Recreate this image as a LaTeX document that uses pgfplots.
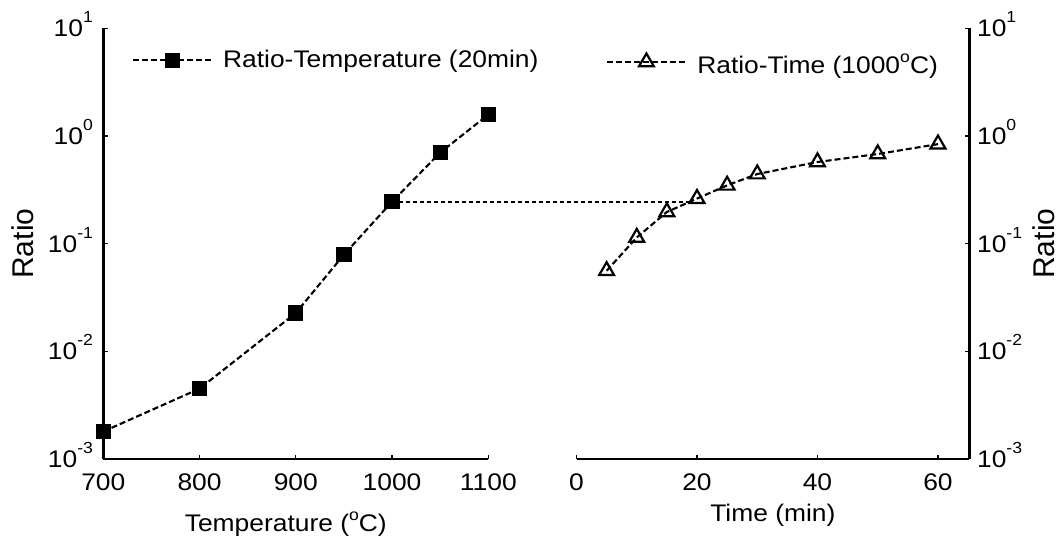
\documentclass[border=0pt]{standalone}
\usepackage{fontspec}
\setmainfont{Liberation Sans}[FakeStretch=1.1]
\newfontfamily\rf{Liberation Sans}
\usepackage{pgfplots}
\pgfplotsset{compat=1.18}
\newcommand\fs{\fontsize{12pt}{14pt}\selectfont}
\newcommand\rfs{\rf\fontsize{15pt}{17pt}\selectfont}
\newcommand\sups[1]{\raisebox{7pt}{\fontsize{8pt}{9pt}\selectfont #1}}
\newcommand\degsup{\raisebox{5.5pt}{\fontsize{8pt}{9pt}\selectfont o}}
\tikzset{dline/.style={black, line width=1.05pt, dash pattern=on 3pt off 1.5pt},
         hline/.style={black, line width=0.95pt, dash pattern=on 2.2pt off 1.3pt}}
\pgfplotsset{
  every axis/.append style={
  scale only axis, height=215.35pt,
  tick align=inside, major tick length=2.2pt, minor tick length=1.3pt,
  tick style={black, line width=0.6pt},
  axis line style={line width=1.2pt, black},
  tick label style={font=\fs, inner sep=0pt},
  xlabel style={font=\fs},
  ylabel style={font=\rfs},
  },
  legend image code/.code={\draw[mark repeat=2,mark phase=2,#1] plot coordinates {(0pt,0pt) (19.5pt,0pt) (39pt,0pt)};},
}
\begin{document}
\begin{tikzpicture}
\useasboundingbox (0,0) rectangle (530pt,272pt);
\begin{axis}[at={(51.65pt,42.5pt)}, anchor=south west, width=192.5pt,
 ymode=log, log basis y=10, ymin=1e-3, ymax=10,
 ytick={1e-3,1e-2,1e-1,1,10},
 yticklabel={10\sups{\pgfmathparse{int(round(\tick))}\pgfmathresult}},
 xticklabel={\pgfmathprintnumber[assume math mode=true,1000 sep={}]{\tick}},
 xticklabel style={anchor=base, yshift=-15.9pt},
 xmin=700, xmax=1100, xtick={700,800,900,1000,1100},
 axis x line*=bottom, axis y line*=left, clip=false,
 yticklabel style={anchor=base east, xshift=-5pt, yshift=-4.3pt},
 xlabel={Temperature (\degsup C)}, xlabel style={at={(axis description cs:0.5,0)}, anchor=base, yshift=-36.5pt, xshift=-5pt},
 ylabel={Ratio}, ylabel style={at={(axis description cs:-0.2086,0.5)}, anchor=center},
 legend style={draw=none, fill=none, font=\fs, inner sep=0pt, nodes={inner sep=0pt}, at={(axis description cs:0.074,0.926)}, anchor=west},
 legend style={/tikz/every odd column/.append style={column sep=5.4pt}},
]
\addplot[dline, mark=square*, mark size=3.3pt, mark options={solid}] coordinates {
 (700,0.0018) (800,0.0045) (900,0.0227) (950,0.079) (1000,0.245) (1050,0.70) (1100,1.58)};
\addlegendentry{Ratio-Temperature (20min)}
\addplot[hline, forget plot] coordinates {(1000,0.245) (1312.7,0.245)};
\end{axis}
\begin{axis}[at={(288.25pt,42.5pt)}, anchor=south west, width=196.4pt,
 ymode=log, log basis y=10, ymin=1e-3, ymax=10,
 ytick={1e-3,1e-2,1e-1,1,10},
 yticklabel={10\sups{\pgfmathparse{int(round(\tick))}\pgfmathresult}},
 xticklabel={\pgfmathprintnumber[assume math mode=true]{\tick}},
 xticklabel style={anchor=base, yshift=-15.9pt},
 xmin=0, xmax=65.2, xtick={0,20,40,60},
 axis x line*=bottom, axis y line*=right,
 yticklabel style={anchor=base west, xshift=3.7pt, yshift=-4.3pt},
 xlabel={Time (min)}, xlabel style={at={(axis description cs:0.5,0)}, anchor=base, yshift=-31.5pt},
 ylabel={Ratio}, ylabel style={at={(axis description cs:1.19,0.5)}, anchor=center},
 legend style={draw=none, fill=none, font=\fs, inner sep=0pt, nodes={inner sep=0pt}, at={(axis description cs:0.075,0.922)}, anchor=west},
 legend style={/tikz/every odd column/.append style={column sep=5.4pt}},
]
\addplot[dline, mark=triangle, mark size=4.3pt, mark options={solid, line width=1.1pt}] coordinates {
 (5,0.056) (10,0.114) (15,0.197) (20,0.262) (25,0.348) (30,0.443) (40,0.573) (50,0.68) (60,0.84)};
\addlegendentry{\raisebox{-3pt}{Ratio-Time (1000\degsup C)}}
\end{axis}
\end{tikzpicture}
\end{document}
